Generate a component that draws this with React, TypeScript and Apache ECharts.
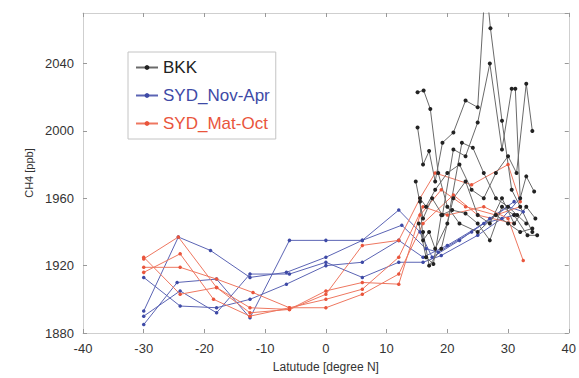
import React, { useEffect, useRef } from "react";
import * as echarts from "echarts";

// x ticks / y ticks
const xTicks = [-40, -30, -20, -10, 0, 10, 20, 30, 40];
const yTicks = [1880, 1920, 1960, 2000, 2040];

// BKK cruises [lat, CH4]
const bkk1 = [[15.1, 2023], [16.1, 2024], [17.2, 2013], [18.5, 1975], [20, 1955], [22, 1945], [25, 1940], [28, 1950], [30, 1945], [32, 1940], [34, 1942]];
const bkk2 = [[15.1, 2002], [16, 1980], [17, 1988], [18, 1970], [19.2, 1993], [21, 1999], [23, 2018], [25, 2014], [26.3, 2090], [27.1, 2061], [29, 2006], [30.6, 1965], [32, 1955], [34, 1940]];
const bkk3 = [[14.8, 1970], [16, 1948], [17.5, 1960], [19.2, 1950], [21, 1989], [23, 1985], [25, 2005], [27, 2040], [29, 1989], [30.6, 2025], [31.2, 2025], [32, 1960], [33, 1973], [34.3, 1964]];
const bkk4 = [[15.5, 1958], [16, 1935], [17, 1940], [18, 1930], [20, 1945], [22.4, 1993], [24.2, 1990], [26, 1975], [28, 1960], [30, 1955], [31.5, 1950], [33, 1945]];
const bkk5 = [[15.3, 1945], [16.5, 1925], [17.7, 1921], [19, 1950], [20.8, 1953], [23, 1951], [25, 1945], [27, 1935], [29, 1955], [31, 1950], [33.2, 1938], [34.8, 1938]];
const bkk6 = [[15.5, 1960], [16.5, 1955], [18, 1965], [20, 1975], [22, 1980], [24, 1965], [26, 1960], [28, 1975], [30, 1985], [31.4, 1975], [33, 2028], [34, 2000]];
const bkk7 = [[16, 1940], [17, 1920], [19, 1930], [21, 1960], [23, 1970], [25, 1950], [27, 1945], [29, 1960], [31, 1945], [33, 1955], [34.5, 1948]];

// SYD Nov-Apr cruises
const sydNov1 = [[-30, 1893], [-24.3, 1937], [-19, 1929], [-12.5, 1913], [-6.5, 1916], [0, 1925], [6, 1935], [12, 1953], [15.5, 1940], [17.5, 1925], [22, 1935], [27, 1948], [31, 1958]];
const sydNov2 = [[-30, 1885], [-24.5, 1910], [-18, 1912], [-12.5, 1889], [-6, 1935], [0, 1935], [6, 1935], [12.5, 1944], [16.5, 1930], [18.5, 1928], [24, 1940], [30, 1955], [32.5, 1952]];
const sydNov3 = [[-30, 1913], [-24, 1896], [-18, 1895], [-12.5, 1900], [-6.5, 1909], [0, 1920], [6, 1922], [12, 1935], [16, 1925], [20, 1932], [26, 1945], [31, 1950]];
const sydNov4 = [[-30, 1890], [-24, 1905], [-18, 1892], [-12.5, 1915], [-6, 1915], [0, 1922], [6, 1913], [12, 1922], [16, 1922], [19, 1926], [25, 1938], [29, 1948], [32, 1960]];

// SYD Mat-Oct cruises
const sydMat1 = [[-30, 1924], [-24.3, 1937], [-18, 1907], [-12.5, 1892], [-6, 1894], [0, 1903], [6, 1932], [12, 1935], [15.5, 1960], [18, 1975], [24, 1968], [30, 1980], [32, 1958]];
const sydMat2 = [[-30, 1916], [-24, 1927], [-18.5, 1900], [-12.5, 1890], [-6, 1895], [0, 1900], [6, 1906], [12, 1925], [16, 1955], [20, 1950], [26, 1955], [30, 1948], [32.5, 1923]];
const sydMat3 = [[-30, 1919], [-24, 1919], [-18, 1912], [-12, 1904], [-6, 1895], [0, 1895], [6, 1903], [12, 1915], [16, 1945], [21, 1962], [25, 1950], [31, 1945]];
const sydMat4 = [[-30, 1925], [-24, 1903], [-18, 1907], [-12.5, 1895], [-6, 1894], [0, 1905], [6, 1910], [12, 1909], [15.5, 1950], [19, 1965], [23, 1955], [28, 1950], [32, 1955]];

const NAME_BKK = "BKK";
const NAME_NOV = "SYD_Nov-Apr";
const NAME_MAT = "SYD_Mat-Oct";

const COL_BKK = "#222222";
const COL_NOV = "#3e4aa6";
const COL_MAT = "#e9553c";

export default function App() {
  const ref = useRef<HTMLDivElement>(null);
  useEffect(() => {
    if (!ref.current) return;
    const chart = echarts.init(ref.current, null, { renderer: "svg" });
    const mk = (name: string, data: number[][], color: string, lineColor: string, size: number) => ({
      name,
      type: "line",
      data,
      symbol: "circle",
      symbolSize: size,
      showSymbol: true,
      itemStyle: { color },
      lineStyle: { color: lineColor, width: 1 },
      clip: true,
      emphasis: { disabled: true },
    });
    const font = "Liberation Sans, Arial, sans-serif";
    const axisCommon = {
      axisLine: { show: true, onZero: false, lineStyle: { color: "#cfcfcf", width: 1 } },
      axisTick: { show: true, inside: true, length: 4, lineStyle: { color: "#999" } },
      splitLine: { show: false },
    };
    chart.setOption({
      animation: false,
      grid: { left: 83, right: 5, top: 13, bottom: 41, containLabel: false },
      legend: {
        orient: "vertical",
        left: 128,
        top: 52,
        padding: [7, 6, 7, 7],
        itemGap: 11,
        itemWidth: 22,
        itemHeight: 6,
        borderColor: "#c4c4c4",
        borderWidth: 1,
        backgroundColor: "#fff",
        data: [
          { name: NAME_BKK, textStyle: { color: "#222" } },
          { name: NAME_NOV, textStyle: { color: COL_NOV } },
          { name: NAME_MAT, textStyle: { color: COL_MAT } },
        ],
        textStyle: { fontSize: 17, fontFamily: font },
      },
      xAxis: [
        {
          ...axisCommon,
          type: "value",
          min: xTicks[0],
          max: xTicks[xTicks.length - 1],
          interval: 10,
          position: "bottom",
          name: "Latutude [degree N]",
          nameLocation: "middle",
          nameGap: 28,
          nameTextStyle: { fontSize: 12, color: "#333", fontFamily: font },
          axisLabel: { fontSize: 13, color: "#333", margin: 9, fontFamily: font },
        },
        {
          ...axisCommon,
          type: "value",
          min: xTicks[0],
          max: xTicks[xTicks.length - 1],
          interval: 10,
          position: "top",
          axisLabel: { show: false },
        },
      ],
      yAxis: [
        {
          ...axisCommon,
          type: "value",
          min: yTicks[0],
          max: 2070,
          interval: 40,
          position: "left",
          name: "CH4 [ppb]",
          nameLocation: "middle",
          nameGap: 46,
          nameTextStyle: { fontSize: 11, color: "#333", fontFamily: font },
          axisLabel: {
            fontSize: 13,
            color: "#333",
            margin: 9,
            fontFamily: font,
            showMaxLabel: false,
            formatter: (v: number) => String(v),
          },
        },
        {
          ...axisCommon,
          type: "value",
          min: yTicks[0],
          max: 2070,
          interval: 40,
          position: "right",
          axisLabel: { show: false },
        },
      ],
      series: [
        mk(NAME_NOV, sydNov1, COL_NOV, "#5b64b4", 3.5),
        mk(NAME_NOV, sydNov2, COL_NOV, "#5b64b4", 3.5),
        mk(NAME_NOV, sydNov3, COL_NOV, "#5b64b4", 3.5),
        mk(NAME_NOV, sydNov4, COL_NOV, "#5b64b4", 3.5),
        mk(NAME_MAT, sydMat1, COL_MAT, "#ee7760", 3.5),
        mk(NAME_MAT, sydMat2, COL_MAT, "#ee7760", 3.5),
        mk(NAME_MAT, sydMat3, COL_MAT, "#ee7760", 3.5),
        mk(NAME_MAT, sydMat4, COL_MAT, "#ee7760", 3.5),
        mk(NAME_BKK, bkk1, COL_BKK, "#6a6a6a", 4),
        mk(NAME_BKK, bkk2, COL_BKK, "#6a6a6a", 4),
        mk(NAME_BKK, bkk3, COL_BKK, "#6a6a6a", 4),
        mk(NAME_BKK, bkk4, COL_BKK, "#6a6a6a", 4),
        mk(NAME_BKK, bkk5, COL_BKK, "#6a6a6a", 4),
        mk(NAME_BKK, bkk6, COL_BKK, "#6a6a6a", 4),
        mk(NAME_BKK, bkk7, COL_BKK, "#6a6a6a", 4),
      ],
    });
    return () => chart.dispose();
  }, []);
  return (
    <div
      ref={ref}
      style={{ position: "fixed", left: 0, top: 0, width: 579, height: 378, background: "#fff" }}
    />
  );
}
